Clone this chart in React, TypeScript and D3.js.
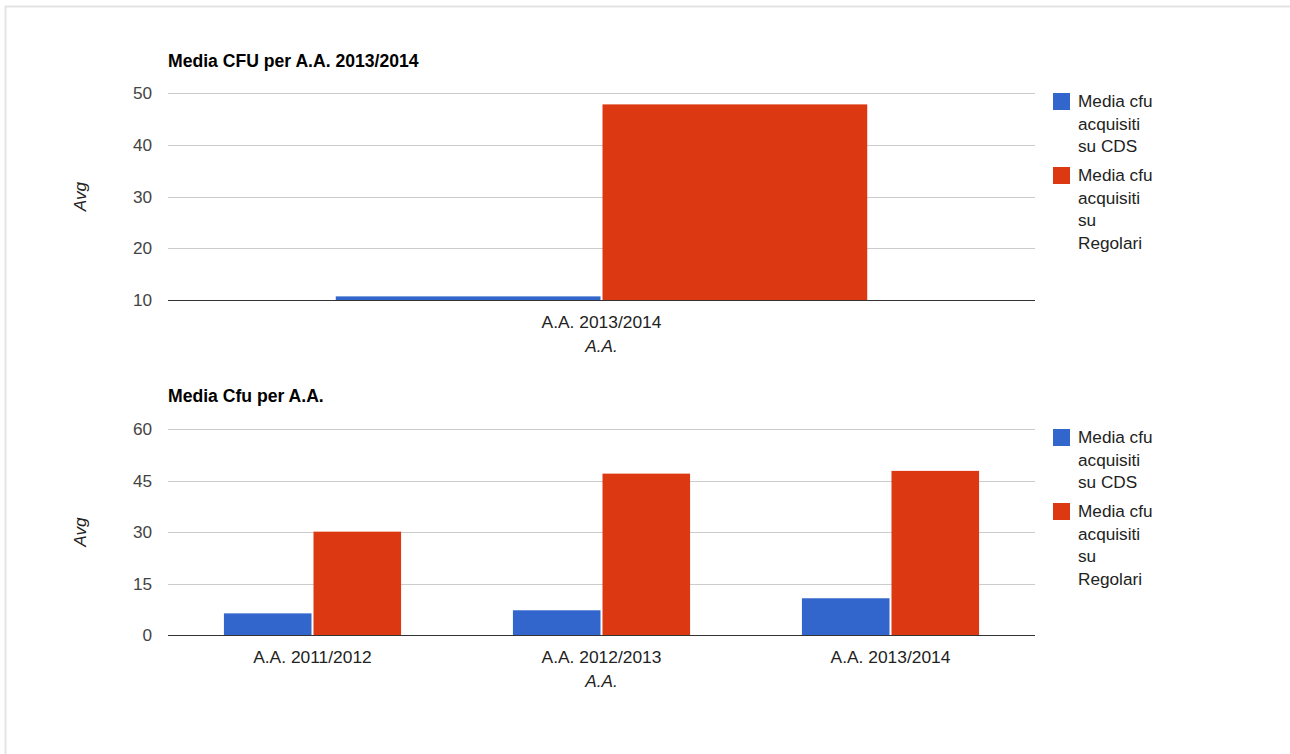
import React from "react";
import * as d3 from "d3";

const seriesNames = ["Media cfu acquisiti su CDS", "Media cfu acquisiti su Regolari"];
const legendLines = [
  ["Media cfu", "acquisiti", "su CDS"],
  ["Media cfu", "acquisiti", "su", "Regolari"],
];
const colors = ["#3366cc", "#dc3912"];

const topCategories = ["A.A. 2013/2014"];
const topCDS = [10.7];
const topRegolari = [47.8];
const topTicks = [10, 20, 30, 40, 50];

const bottomCategories = ["A.A. 2011/2012", "A.A. 2012/2013", "A.A. 2013/2014"];
const bottomCDS = [6.3, 7.2, 10.7];
const bottomRegolari = [30.1, 47.0, 47.8];
const bottomTicks = [0, 15, 30, 45, 60];

const FONT = "Arial, 'Liberation Sans', sans-serif";

type PanelProps = {
  title: string;
  titleY: number;
  categories: string[];
  cds: number[];
  reg: number[];
  ticks: number[];
  yTop: number;
  yBottom: number;
};

function Panel({ title, titleY, categories, cds, reg, ticks, yTop, yBottom }: PanelProps) {
  const x0 = 168;
  const x1 = 1035;
  const dmin = ticks[0];
  const dmax = ticks[ticks.length - 1];
  const y = d3.scaleLinear().domain([dmin, dmax]).range([yBottom, yTop]);
  const xb = d3.scaleBand<string>().domain(categories).range([x0, x1]).paddingInner(0.387).paddingOuter(0.1935);
  const xs = d3.scaleBand<string>().domain(seriesNames).range([0, xb.bandwidth()]);
  const vals = [cds, reg];
  const legendX = 1053;
  const legendTop = yTop;
  const lh = 22.5;
  return (
    <g fontFamily={FONT}>
      <text x={x0} y={titleY} fontSize={17.6} fontWeight="bold" fill="#000">{title}</text>
      {ticks.map((t) => (
        <g key={t}>
          {t !== dmin && (
            <line x1={x0} x2={x1} y1={Math.round(y(t)) + 0.5} y2={Math.round(y(t)) + 0.5} stroke="#cccccc" strokeWidth={1} />
          )}
          <text x={152} y={y(t)} dy="0.36em" textAnchor="end" fontSize={17.2} fill="#444">{t}</text>
        </g>
      ))}
      {categories.map((c, i) =>
        seriesNames.map((s, j) => {
          const v = Math.max(vals[j][i], dmin);
          const bx = (xb(c) as number) + (xs(s) as number);
          return (
            <rect key={c + s} x={bx + (j === 1 ? 1 : 0)} y={y(v)} width={xs.bandwidth() - 1} height={y(dmin) - y(v)} fill={colors[j]} />
          );
        })
      )}
      <line x1={x0} x2={x1} y1={Math.round(y(dmin)) + 0.5} y2={Math.round(y(dmin)) + 0.5} stroke="#333" strokeWidth={1.2} />
      {categories.map((c) => (
        <text key={c} x={(xb(c) as number) + xb.bandwidth() / 2} y={yBottom + 28} textAnchor="middle" fontSize={17.4} fill="#222">{c}</text>
      ))}
      <text x={(x0 + x1) / 2} y={yBottom + 52} textAnchor="middle" fontSize={17.2} fontStyle="italic" fill="#222">A.A.</text>
      <text transform={`translate(86,${(yTop + yBottom) / 2}) rotate(-90)`} textAnchor="middle" fontSize={17.2} fontStyle="italic" fill="#222">Avg</text>
      {legendLines.map((lines, k) => {
        const top = legendTop + k * (3 * lh + 6.5);
        return (
          <g key={k}>
            <rect x={legendX} y={top} width={17} height={17} fill={colors[k]} />
            {lines.map((ln, m) => (
              <text key={m} x={1078} y={top + 14 + m * lh} fontSize={17.2} fill="#222">{ln}</text>
            ))}
          </g>
        );
      })}
    </g>
  );
}

export default function App() {
  return (
    <svg width={1290} height={754} style={{ position: "absolute", left: 0, top: 0, background: "#fff" }}>
      <rect x={0} y={0} width={1290} height={754} fill="#fff" />
      <line x1={5} x2={1290} y1={6.5} y2={6.5} stroke="#e4e4e4" strokeWidth={2} />
      <line x1={5.5} x2={5.5} y1={6} y2={754} stroke="#e4e4e4" strokeWidth={2} />
      <Panel title="Media CFU per A.A. 2013/2014" titleY={67} categories={topCategories} cds={topCDS} reg={topRegolari} ticks={topTicks} yTop={93} yBottom={300} />
      <Panel title="Media Cfu per A.A." titleY={402} categories={bottomCategories} cds={bottomCDS} reg={bottomRegolari} ticks={bottomTicks} yTop={429} yBottom={635} />
    </svg>
  );
}
